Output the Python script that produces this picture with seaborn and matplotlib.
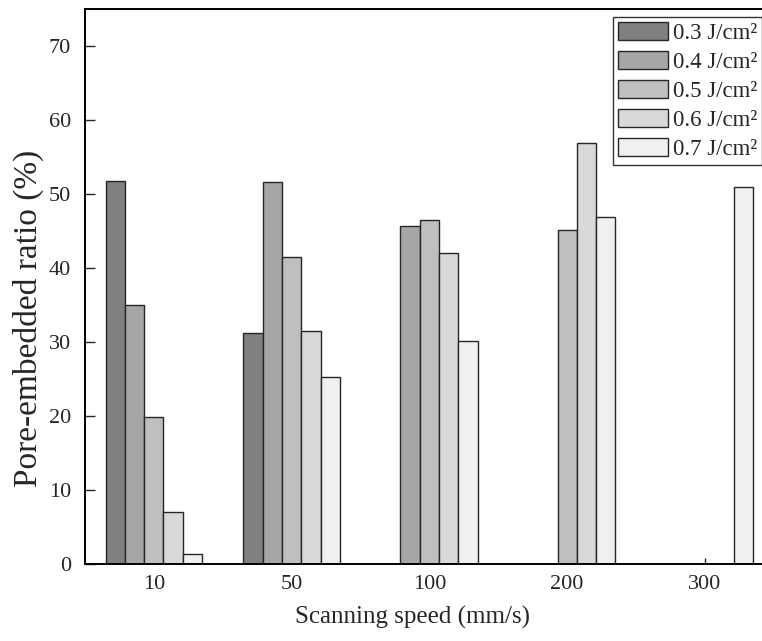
import matplotlib
matplotlib.use("Agg")
import matplotlib.pyplot as plt
from matplotlib.patches import Patch
import numpy as np
import pandas as pd
import seaborn as sns

# Scanning speeds (mm/s) and laser fluences (J/cm²)
speeds = ["10", "50", "100", "200", "300"]
fluences = ["0.3 J/cm²", "0.4 J/cm²", "0.5 J/cm²", "0.6 J/cm²", "0.7 J/cm²"]

# Pore-embedded ratio (%) per fluence, one value per scanning speed (nan = not measured)
ratio_03 = [51.7, 31.2, np.nan, np.nan, np.nan]
ratio_04 = [35.0, 51.6, 45.7, np.nan, np.nan]
ratio_05 = [19.8, 41.5, 46.4, 45.1, np.nan]
ratio_06 = [7.0, 31.4, 42.0, 56.9, np.nan]
ratio_07 = [1.3, 25.2, 30.1, 46.9, 50.9]

bar_colors = ["#808080", "#a6a6a6", "#bfbfbf", "#d9d9d9", "#f0f0f0"]

rows = []
for fl, vals in zip(fluences, [ratio_03, ratio_04, ratio_05, ratio_06, ratio_07]):
    for sp, v in zip(speeds, vals):
        if not np.isnan(v):
            rows.append({"speed": sp, "fluence": fl, "ratio": v})
df = pd.DataFrame(rows)

sns.set_style("ticks")
plt.rcParams["font.family"] = ["Liberation Serif", "DejaVu Serif"]

fig = plt.figure(figsize=(7.62, 6.41), dpi=100)
ax = fig.add_axes([0.1115, 0.1209, 0.904, 0.865])

sns.barplot(
    data=df, x="speed", y="ratio", hue="fluence",
    order=speeds, hue_order=fluences, palette=bar_colors,
    width=0.7, dodge=True, errorbar=None,
    edgecolor="#262626", linewidth=1.0, saturation=1, ax=ax, legend=False,
)

ax.set_xlim(-0.5, 4.5)
ax.set_ylim(0, 75)
ax.set_yticks(range(0, 71, 10))
ax.set_xlabel("Scanning speed (mm/s)", fontsize=18)
ax.set_ylabel("Pore-embedded ratio (%)", fontsize=24)
ax.xaxis.set_label_coords(0.476, -0.077)
ax.yaxis.set_label_coords(-0.059, 0.443)

ax.tick_params(axis="y", direction="in", length=7, width=1.0, labelsize=16, pad=10)
ax.tick_params(axis="x", direction="in", length=4.5, width=1.0, labelsize=16, pad=8)
for side in ["left", "bottom", "top", "right"]:
    ax.spines[side].set_visible(True)
    ax.spines[side].set_linewidth(1.4)
    ax.spines[side].set_color("black")

handles = [Patch(facecolor=c, edgecolor="#262626", linewidth=1.0) for c in bar_colors]
leg = ax.legend(
    handles, fluences, loc="upper left", bbox_to_anchor=(0.766, 0.9856),
    fontsize=16.5, frameon=True, fancybox=False, edgecolor="black",
    handlelength=2.2, handleheight=0.85, handletextpad=0.2,
    labelspacing=0.3, borderpad=0.22, borderaxespad=0.0,
)
leg.get_frame().set_linewidth(1.0)

fig.savefig("out.png", dpi=100)
